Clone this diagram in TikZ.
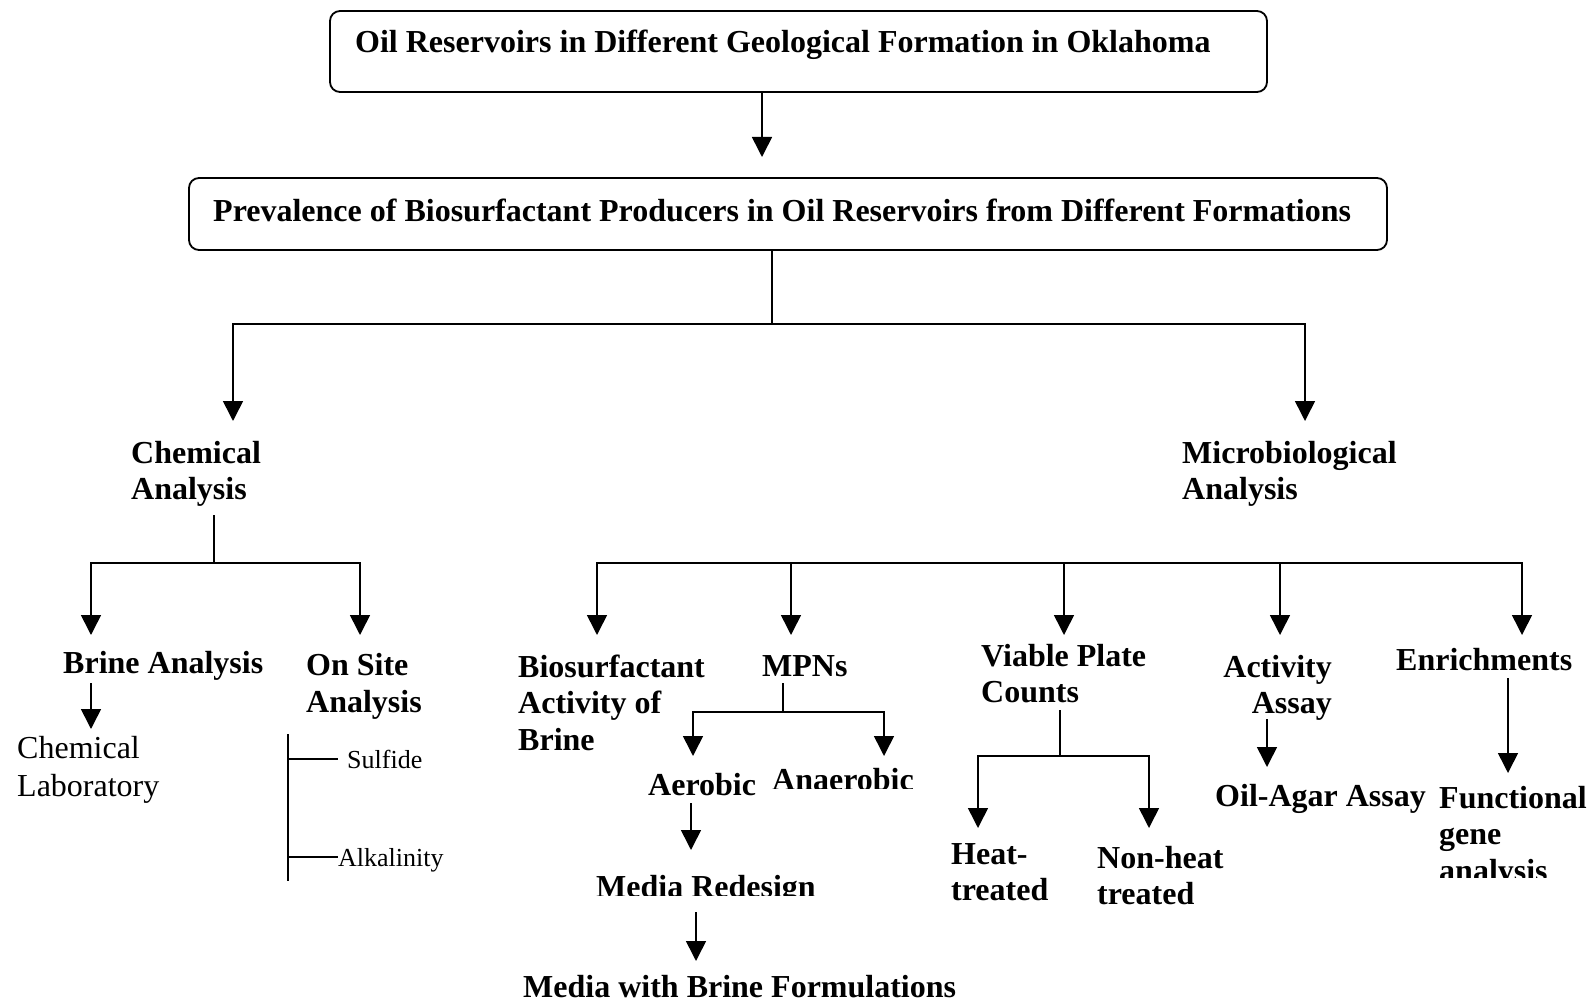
\documentclass[tikz,border=0pt]{standalone}
\usepackage{fontspec}
\setmainfont{Liberation Serif}
\usetikzlibrary{arrows.meta,fit}
\tikzset{
  ln/.style={line width=1.6pt},
  arr/.style={line width=1.6pt,-{Triangle[width=20pt,length=20pt]}},
  bx/.style={draw,line width=1.8pt,rounded corners=10pt,inner sep=0pt},
  bt/.style={inner sep=0pt,font=\bfseries\fontsize{32}{36.5}\selectfont,align=left},
  btm/.style={bt,execute at begin node=\strut},
  rt/.style={inner sep=0pt,font=\fontsize{32}{37.5}\selectfont,align=left,execute at begin node=\strut},
  st/.style={inner sep=0pt,font=\fontsize{26}{30}\selectfont},
}
\begin{document}
\begin{tikzpicture}[x=1pt,y=-1pt]
\useasboundingbox (0,0) rectangle (1591,1000);
% top boxes
\node[bx,fit={(330,11) (1267,92)}] (b1) {};
\node[bt,anchor=base west] (b1t) at (355,53) {Oil Reservoirs in Different Geological Formation in Oklahoma};
\node[bx,fit={(189,178) (1387,250)}] (b2) {};
\node[bt,anchor=base west] (b2t) at (213,222) {Prevalence of Biosurfactant Producers in Oil Reservoirs from Different Formations};
\coordinate (a1) at (762,157);
\draw[arr] (b1.south -| a1) -- (a1);
\coordinate (j0) at (772,324);
\draw[ln] (b2.south -| j0) -- (j0);
\coordinate (aChem) at (233,421);
\coordinate (aMic) at (1305,421);
\draw[arr] (j0) -| (aChem);
\draw[arr] (j0) -| (aMic);
% level 2
\node[btm,anchor=north west] (chem) at (131,441) {Chemical\\Analysis};
\node[btm,anchor=north west] (mic) at (1182,441) {Microbiological\\Analysis};
% chemical branch
\coordinate (c0) at (214,515);
\coordinate (c1) at (214,563);
\coordinate (aBrine) at (91,635);
\coordinate (aOn) at (360,635);
\draw[ln] (c0) -- (c1);
\draw[arr] (c1) -| (aBrine);
\draw[arr] (c1) -| (aOn);
\node[bt,anchor=base west] (brine) at (63,673) {Brine Analysis};
\node[btm,anchor=north west] (onsite) at (306,653.5) {On Site\\Analysis};
\coordinate (bl0) at (91,683);
\coordinate (bl1) at (91,729);
\draw[arr] (bl0) -- (bl1);
\node[rt,anchor=north west] (chemlab) at (17,736.5) {Chemical\\Laboratory};
\coordinate (br0) at (288,734);
\coordinate (br1) at (288,881);
\draw[ln] (br0) -- (br1);
\node[st,anchor=base west] (sulf) at (347,768) {Sulfide};
\node[st,anchor=base west] (alk) at (338,866) {Alkalinity};
\draw[ln] (sulf.west |- 0,759) ++(-9,0) coordinate (s1) (br0 |- s1) -- (s1);
\draw[ln] (br0 |- 0,857) -- (alk.west |- 0,857);
% microbiological branch
\coordinate (mh) at (1064,563);
\coordinate (aBio) at (597,635);
\coordinate (aMPN) at (791,635);
\coordinate (aVPC) at (1064,635);
\coordinate (aAct) at (1280,635);
\coordinate (aEnr) at (1522,635);
\draw[arr] (mh) -| (aBio);
\draw[arr] (mh) -| (aEnr);
\draw[arr] (aMPN |- mh) -- (aMPN);
\draw[arr] (mh) -- (aVPC);
\draw[arr] (aAct |- mh) -- (aAct);
\node[btm,anchor=north west] (bio) at (518,654.5) {Biosurfactant\\Activity of\\Brine};
\node[bt,anchor=base west] (mpn) at (762,676) {MPNs};
\coordinate (mp0) at (783,683);
\coordinate (mp1) at (783,712);
\coordinate (aAer) at (693,756);
\coordinate (aAna) at (884,756);
\draw[ln] (mp0) -- (mp1);
\draw[arr] (mp1) -| (aAer);
\draw[arr] (mp1) -| (aAna);
\node[bt,anchor=base west] (aer) at (648,795) {Aerobic};
\begin{scope}
\clip (760,740) rectangle (930,788);
\node[bt,anchor=base west] (ana) at (772,790.5) {Anaerobic};
\end{scope}
\coordinate (ae0) at (691,803);
\coordinate (ae1) at (691,850);
\draw[arr] (ae0) -- (ae1);
\begin{scope}
\clip (580,860) rectangle (830,895);
\node[bt,anchor=base west] (media) at (596,897.5) {Media Redesign};
\end{scope}
\coordinate (md0) at (696,912);
\coordinate (md1) at (696,961);
\draw[arr] (md0) -- (md1);
\node[bt,anchor=base west] (brf) at (523,997) {Media with Brine Formulations};
% viable plate counts
\node[btm,anchor=north west] (vpc) at (981,644) {Viable Plate\\Counts};
\coordinate (v0) at (1060,710);
\coordinate (v1) at (1060,756);
\coordinate (aHeat) at (978,828);
\coordinate (aNon) at (1149,828);
\draw[ln] (v0) -- (v1);
\draw[arr] (v1) -| (aHeat);
\draw[arr] (v1) -| (aNon);
\node[btm,anchor=north west] (heat) at (951,843) {Heat-\\treated};
\node[btm,anchor=north west] (non) at (1097,846) {Non-heat\\treated};
% activity assay
\node[btm,anchor=north east,align=right] (act) at (1332,655) {Activity\\Assay};
\coordinate (ac0) at (1267,719);
\coordinate (ac1) at (1267,767);
\draw[arr] (ac0) -- (ac1);
\node[bt,anchor=base west] (oil) at (1215,806) {Oil-Agar Assay};
% enrichments
\node[bt,anchor=base west] (enr) at (1396,670) {Enrichments};
\coordinate (en0) at (1508,678);
\coordinate (en1) at (1508,773);
\draw[arr] (en0) -- (en1);
\begin{scope}
\clip (1430,770) rectangle (1591,877);
\node[btm,anchor=north west] (func) at (1439,786) {Functional\\gene\\analysis};
\end{scope}
\end{tikzpicture}
\end{document}
